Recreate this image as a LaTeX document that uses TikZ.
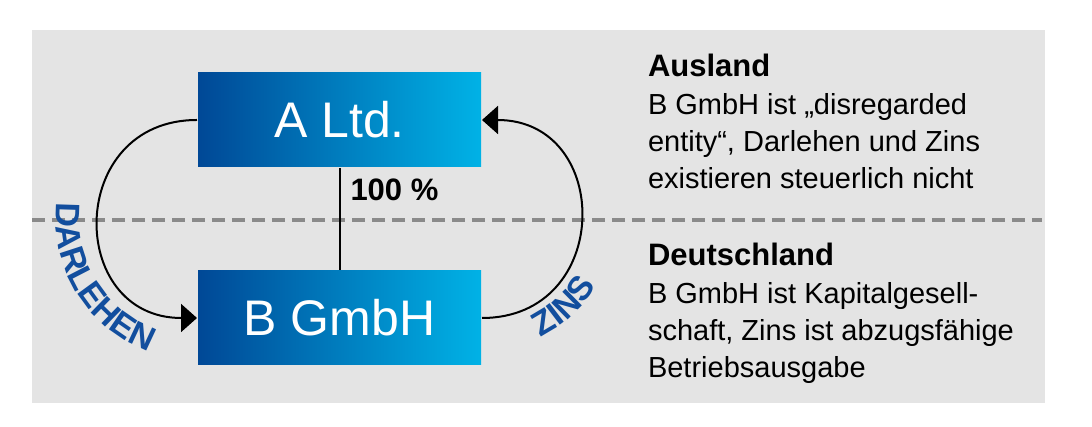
\documentclass[tikz,border=0pt]{standalone}
\usepackage{fontspec}
\setmainfont{Liberation Sans}
\usetikzlibrary{arrows.meta, positioning, calc, decorations.text}

\definecolor{bggray}{RGB}{228,228,228}
\definecolor{dashgray}{RGB}{138,138,138}
\definecolor{firmdark}{RGB}{0,72,150}
\definecolor{firmlight}{RGB}{0,178,230}
\definecolor{flowblue}{RGB}{18,78,158}

\newcommand{\firmfont}{\fontsize{50}{50}\selectfont}
\newcommand{\headfont}{\fontsize{31}{37}\selectfont\bfseries}
\newcommand{\bodyfont}{\fontsize{29}{37}\selectfont}
\newcommand{\flowfont}{\fontsize{34}{34}\selectfont\bfseries}

\begin{document}
\begin{tikzpicture}[x=1pt,y=1pt,->,>={Triangle[length=16pt,width=28pt]},line width=2pt,node distance=198pt]
		\tikzstyle{firm}=[rectangle,minimum width=283pt,minimum height=94pt,inner sep=0pt,left color=firmdark,right color=firmlight,text=white,font=\firmfont]
		\tikzstyle{head}=[inner sep=0pt,anchor=base west,font=\headfont]
		\tikzstyle{note}=[inner sep=0pt,anchor=base west,align=left,font=\bodyfont]
		\tikzstyle{divider}=[-,draw=dashgray,line width=4pt,dash pattern=on 13pt off 7pt]
		
		\useasboundingbox (0,0) rectangle (1092,427);
		\fill[bggray] (32,24) rectangle (1045,397);
		\draw[divider] (32,207) -- (1042,207);
		
		\node[firm] (A) at (339.5,307)   {A Ltd.};
		\node[firm] (B) [below of=A]     {B GmbH};
		
		\path (A) edge[-] (B)
		(A.west) edge[out=180,in=180,looseness=1.7] (B.west)
		(B.east) edge[out=0,in=0,looseness=1.7] (A.east);
		
		\node[head] (share) at ([xshift=10pt,yshift=-33pt]A.south) {100 \%};
		
		% labels on the loops
		\coordinate (lc) at ($(A.west)!0.5!(B.west)$);
		\coordinate (rc) at ($(A.east)!0.5!(B.east)$);
		\path[decorate,decoration={text along path,text={|\flowfont|DARLEHEN},text align=center,text color=flowblue}]
		(lc) ++(155:141) arc[start angle=155,end angle=268,radius=141];
		\path[decorate,decoration={text along path,text={|\flowfont|ZINS},text align=center,text color=flowblue}]
		(rc) ++(-82:132) arc[start angle=-82,end angle=-12,radius=132];
		
		% the last line of a note sits on its base
		\node[head] (ausland) at (647,350) {Ausland};
		\node[note] (ausnote) at ([yshift=-112pt]ausland.base west) {B GmbH ist „disregarded\\entity“, Darlehen und Zins\\existieren steuerlich nicht};
		
		\node[head] (deutsch) at (647,161) {Deutschland};
		\node[note] (deunote) at ([yshift=-112pt]deutsch.base west) {B GmbH ist Kapitalgesell-\\schaft, Zins ist abzugsfähige\\Betriebsausgabe};
	\end{tikzpicture}
\end{document}
